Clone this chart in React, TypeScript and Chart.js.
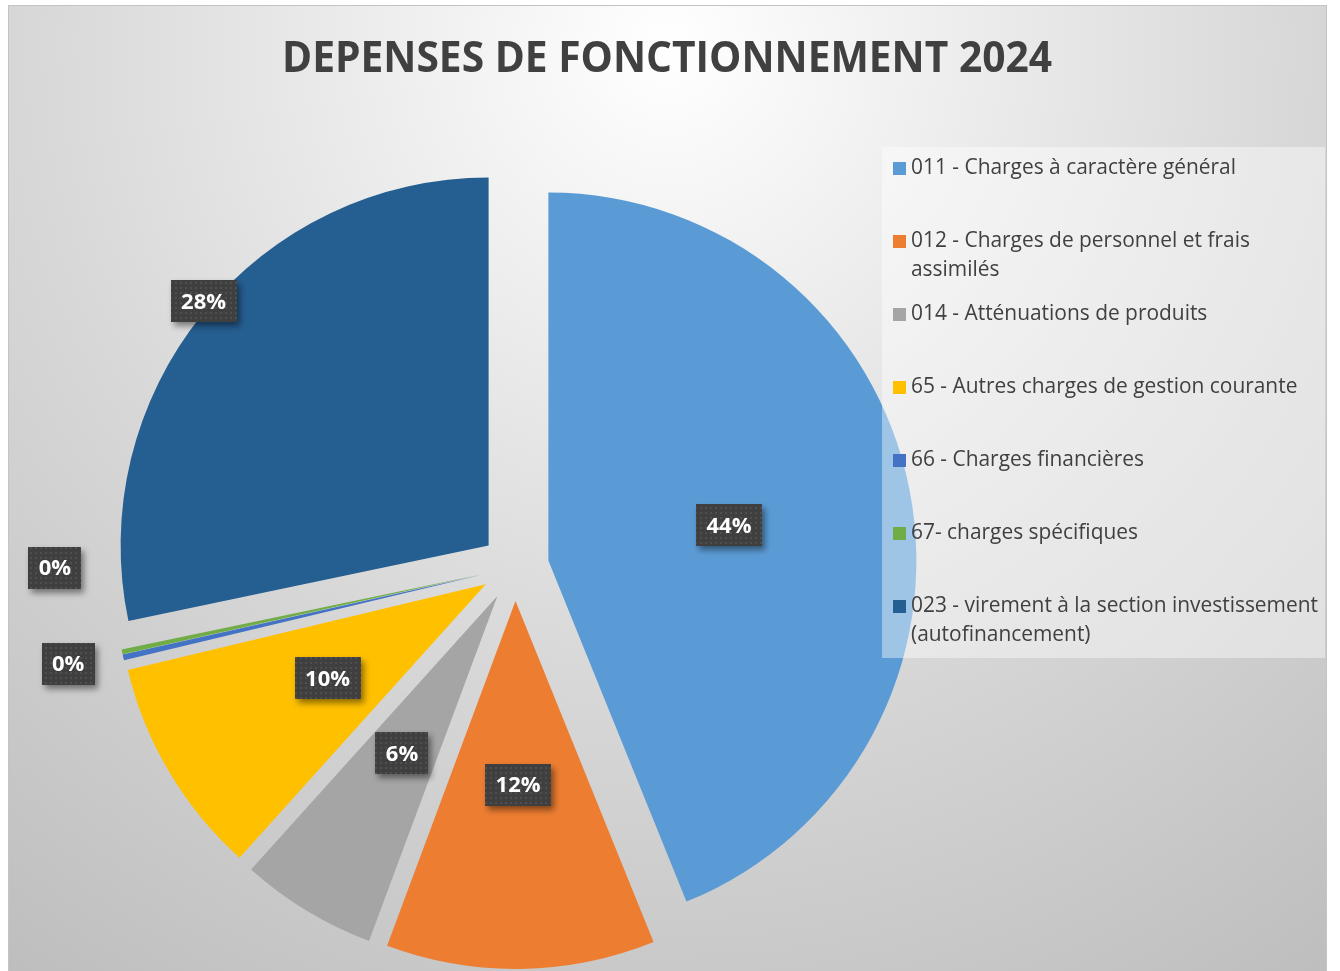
import React, { useEffect, useRef } from 'react';
import { Chart, registerables } from 'chart.js';

Chart.register(...registerables);

// ---------- data ----------
const TITLE = 'DEPENSES DE FONCTIONNEMENT 2024';
const categories = [
  '011 - Charges à caractère général',
  '012 - Charges de personnel et frais assimilés',
  '014 - Atténuations de produits',
  '65 - Autres charges de gestion courante',
  '66 - Charges financières',
  '67- charges spécifiques',
  '023 - virement à la section investissement (autofinancement)',
];
const values = [43.9, 11.8, 6.0, 9.6, 0.25, 0.2, 28.3];
const colors = ['#5B9BD5', '#ED7D31', '#A5A5A5', '#FFC000', '#4472C4', '#70AD47', '#255E91'];

// ---------- layout ----------
const W = 1319;
const H = 975;
const CX = 507;
const CY = 562;
const R = 368;
const EXPLODE = 34;
const labelRadius = [0.5, 0.5, 0.5, 0.5, 1.15, 1.16, 1.02];
const labelAngleShift = [0, 0, 0, 0, 0.8, 13, 1.5];
const LEGEND_BOX = { x: 874, y: 142, w: 443, h: 511 };
const FONT = '"Open Sans", "Noto Sans", sans-serif';

function makePattern(ctx: CanvasRenderingContext2D) {
  const c = document.createElement('canvas');
  c.width = 5;
  c.height = 5;
  const p = c.getContext('2d')!;
  p.fillStyle = '#3f3f3f';
  p.fillRect(0, 0, 5, 5);
  p.fillStyle = '#4f4f4f';
  p.fillRect(2, 2, 2, 2);
  return ctx.createPattern(c, 'repeat');
}

const backgroundPlugin = {
  id: 'bg',
  beforeDraw(chart: any) {
    const ctx: CanvasRenderingContext2D = chart.ctx;
    ctx.save();
    const g = ctx.createRadialGradient(660, 40, 0, 660, 40, 1150);
    g.addColorStop(0, '#ffffff');
    g.addColorStop(0.55, '#d8d8d8');
    g.addColorStop(1, '#bdbdbd');
    ctx.fillStyle = g;
    ctx.fillRect(0, 0, chart.width, chart.height);
    ctx.strokeStyle = '#c4c4c4';
    ctx.lineWidth = 1;
    ctx.strokeRect(0.5, 0.5, chart.width - 1, chart.height + 10);
    // title
    ctx.font = `bold 43px ${FONT}`;
    const tw = ctx.measureText(TITLE).width;
    const sx = Math.min(1, 770 / tw);
    ctx.translate(659, 55);
    ctx.scale(sx, 1);
    ctx.fillStyle = '#404040';
    ctx.textAlign = 'center';
    ctx.textBaseline = 'middle';
    ctx.fillText(TITLE, 0, 0);
    ctx.restore();
  },
};

const explodePlugin = {
  id: 'explode',
  afterDatasetUpdate(chart: any, args: any) {
    args.meta.data.forEach((arc: any) => {
      const mid = (arc.startAngle + arc.endAngle) / 2;
      arc.x += Math.cos(mid) * EXPLODE;
      arc.y += Math.sin(mid) * EXPLODE;
    });
  },
};

const labelsPlugin = {
  id: 'boxLabels',
  afterDatasetsDraw(chart: any) {
    const ctx: CanvasRenderingContext2D = chart.ctx;
    const meta = chart.getDatasetMeta(0);
    const data: number[] = chart.data.datasets[0].data;
    const total = data.reduce((a, b) => a + b, 0);
    const pattern = makePattern(ctx);
    meta.data.forEach((arc: any, i: number) => {
      const mid = (arc.startAngle + arc.endAngle) / 2 + (labelAngleShift[i] * Math.PI) / 180;
      const d = arc.outerRadius * labelRadius[i];
      const x = arc.x + Math.cos(mid) * d;
      const y = arc.y + Math.sin(mid) * d;
      const txt = Math.round((data[i] / total) * 100) + '%';
      ctx.save();
      ctx.font = `bold 22px ${FONT}`;
      const tw = ctx.measureText(txt).width;
      const bw = tw + 21;
      const bh = 42;
      ctx.shadowColor = 'rgba(0,0,0,0.45)';
      ctx.shadowBlur = 6;
      ctx.shadowOffsetX = 3;
      ctx.shadowOffsetY = 4;
      ctx.fillStyle = pattern || '#404040';
      ctx.fillRect(Math.round(x - bw / 2), Math.round(y - bh / 2), Math.round(bw), bh);
      ctx.shadowColor = 'transparent';
      ctx.fillStyle = '#ffffff';
      ctx.textAlign = 'center';
      ctx.textBaseline = 'middle';
      ctx.fillText(txt, x, y + 1);
      ctx.restore();
    });
  },
};

const legendPlugin = {
  id: 'wrapLegend',
  afterDraw(chart: any) {
    const ctx: CanvasRenderingContext2D = chart.ctx;
    const labels: string[] = chart.data.labels;
    const bg: string[] = chart.data.datasets[0].backgroundColor;
    const b = LEGEND_BOX;
    ctx.save();
    ctx.fillStyle = 'rgba(255,255,255,0.42)';
    ctx.fillRect(b.x, b.y, b.w, b.h);
    ctx.font = `21px ${FONT}`;
    const sx = Math.min(1, 325 / ctx.measureText(labels[0]).width);
    const textX = b.x + 29;
    const maxW = b.x + b.w - textX - 2;
    const step = b.h / labels.length;
    labels.forEach((lab, i) => {
      const y0 = b.y + 21 + i * step;
      ctx.fillStyle = bg[i];
      ctx.fillRect(b.x + 11, Math.round(y0 - 6.5), 13, 13);
      // wrap
      const words = lab.split(' ');
      const lines: string[] = [];
      let cur = '';
      words.forEach((w) => {
        const t = cur ? cur + ' ' + w : w;
        if (ctx.measureText(t).width * sx > maxW && cur) {
          lines.push(cur);
          cur = w;
        } else cur = t;
      });
      if (cur) lines.push(cur);
      ctx.fillStyle = '#404040';
      ctx.textBaseline = 'middle';
      lines.forEach((ln, k) => {
        ctx.save();
        ctx.translate(textX, y0 + k * 29);
        ctx.scale(sx, 1);
        ctx.fillText(ln, 0, 0);
        ctx.restore();
      });
    });
    ctx.restore();
  },
};

export default function App() {
  const ref = useRef<HTMLCanvasElement | null>(null);
  useEffect(() => {
    if (!ref.current) return;
    const chart = new Chart(ref.current, {
      type: 'pie',
      data: {
        labels: categories,
        datasets: [
          {
            data: values,
            backgroundColor: colors,
            borderWidth: 0,
          },
        ],
      },
      options: {
        responsive: false,
        animation: false,
        radius: R,
        layout: { padding: { left: 0, right: W - 2 * CX, top: 2 * CY - H, bottom: 0 } },
        plugins: {
          legend: { display: false },
          title: { display: false },
          tooltip: { enabled: false },
        },
      } as any,
      plugins: [backgroundPlugin, explodePlugin, labelsPlugin, legendPlugin],
    });
    return () => chart.destroy();
  }, []);
  return (
    <div style={{ position: 'absolute', left: 8, top: 5, width: W, height: H }}>
      <canvas ref={ref} width={W} height={H} style={{ display: 'block', width: W, height: H }} />
    </div>
  );
}
